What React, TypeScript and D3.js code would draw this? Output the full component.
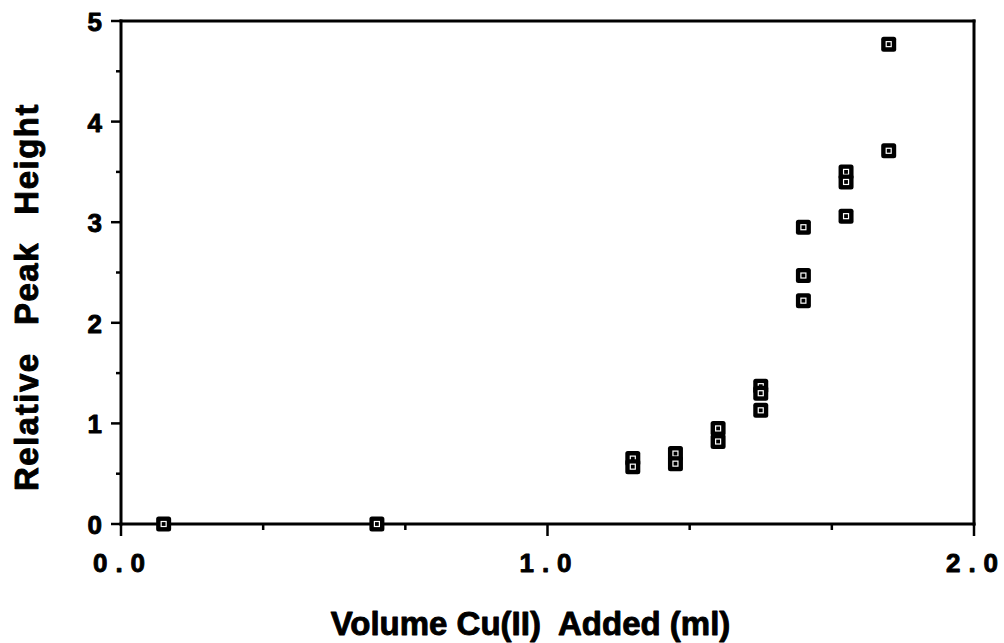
import React from "react";
import * as d3 from "d3";

// Titration data: volume of Cu(II) added (ml) vs relative peak height
const volumes = [0.1, 0.6, 1.2, 1.2, 1.3, 1.3, 1.4, 1.4, 1.5, 1.5, 1.5, 1.6, 1.6, 1.6, 1.7, 1.7, 1.7, 1.8, 1.8];
const peakHeights = [0, 0, 0.65, 0.57, 0.70, 0.60, 0.95, 0.82, 1.37, 1.30, 1.13, 2.95, 2.47, 2.22, 3.50, 3.40, 3.06, 3.71, 4.77];

const xMajorTicks = [0, 1, 2];
const xMinorTicks = [1 / 3, 2 / 3, 4 / 3, 5 / 3];
const yMajorTicks = [0, 1, 2, 3, 4, 5];
const yMinorTicks = [0.5, 1.5, 2.5, 3.5, 4.5];

const xTitle = "Volume Cu(II)  Added (ml)";
const yTitle = "Relative  Peak  Height";

const W = 1004;
const H = 643;
const left = 121;
const right = 974;
const top = 21;
const bottom = 524;

export default function App() {
  const x = d3.scaleLinear().domain([0, 2]).range([left, right]);
  const y = d3.scaleLinear().domain([0, 5]).range([bottom, top]);
  const font = "'Liberation Sans', Arial, Helvetica, sans-serif";
  const m = 15;
  // heavy type: bold face plus a thin outline
  const heavy = { stroke: "#000", strokeWidth: 0.9, strokeLinejoin: "round" as const };

  return (
    <svg
      width={W}
      height={H}
      style={{ position: "absolute", left: 0, top: 0, background: "#fff" }}
    >
      {/* frame */}
      <g stroke="#000" strokeWidth={3} fill="none" strokeLinecap="square">
        <line x1={left} y1={top} x2={right} y2={top} />
        <line x1={right} y1={top} x2={right} y2={bottom} />
        <line x1={left} y1={top} x2={left} y2={bottom} />
        <line x1={left} y1={bottom} x2={right} y2={bottom} />
      </g>

      {/* y ticks */}
      <g stroke="#000" strokeWidth={2.5}>
        {yMajorTicks.map((t) => (
          <line key={"ym" + t} x1={left - 10} x2={left} y1={y(t)} y2={y(t)} />
        ))}
        {yMinorTicks.map((t) => (
          <line key={"yn" + t} x1={left - 5} x2={left} y1={y(t)} y2={y(t)} />
        ))}
      </g>
      {yMajorTicks.map((t) => (
        <text
          key={"yl" + t}
          x={102}
          y={y(t) + 10}
          textAnchor="end"
          fontFamily={font}
          fontWeight="bold"
          fontSize={26}
          {...heavy}
        >
          {d3.format("d")(t)}
        </text>
      ))}

      {/* x ticks */}
      <g stroke="#000" strokeWidth={2.5}>
        {xMajorTicks.map((t) => (
          <line key={"xm" + t} x1={x(t)} x2={x(t)} y1={bottom} y2={bottom + 12} />
        ))}
        {xMinorTicks.map((t) => (
          <line key={"xn" + t} x1={x(t)} x2={x(t)} y1={bottom} y2={bottom + 6} />
        ))}
      </g>
      {xMajorTicks.map((t) => (
        <text
          key={"xl" + t}
          x={x(t) - 2}
          y={572}
          textAnchor="middle"
          fontFamily={font}
          fontWeight="bold"
          fontSize={26}
          {...heavy}
        >
          {d3
            .format(".1f")(t)
            .split("")
            .map((c, j) => (
              <tspan key={j} dx={j > 0 ? 8 : 0}>
                {c}
              </tspan>
            ))}
        </text>
      ))}

      {/* markers */}
      {volumes.map((v, i) => {
        const cx = x(v);
        const cy = y(peakHeights[i]);
        return (
          <g key={"p" + i}>
            <rect x={cx - m / 2} y={cy - m / 2} width={m} height={m} rx={2.5} fill="#000" />
            <rect
              x={cx - 2.5}
              y={cy - 2.5}
              width={5}
              height={5}
              fill="none"
              stroke="#fff"
              strokeWidth={1.2}
            />
          </g>
        );
      })}

      {/* axis titles */}
      <text
        x={(329 + 732) / 2}
        y={635}
        textAnchor="middle"
        fontFamily={font}
        fontWeight="bold"
        fontSize={33}
        style={{ whiteSpace: "pre" }}
        {...heavy}
      >
        {xTitle}
      </text>
      <text
        transform={`translate(38, ${(102 + 492) / 2}) rotate(-90)`}
        textAnchor="middle"
        fontFamily={font}
        fontWeight="bold"
        fontSize={33}
        letterSpacing={1.5}
        wordSpacing={3}
        style={{ whiteSpace: "pre" }}
        {...heavy}
      >
        {yTitle}
      </text>
    </svg>
  );
}
